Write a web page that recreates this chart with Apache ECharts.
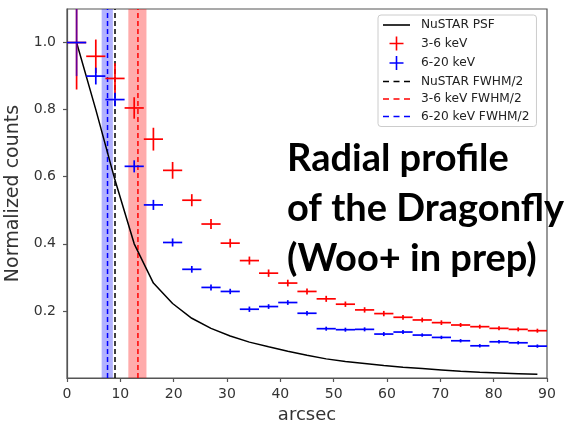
<!DOCTYPE html>
<html>
<head>
<meta charset="utf-8">
<script src="https://cdn.jsdelivr.net/npm/echarts@6/dist/echarts.min.js"></script>
<style>html,body{margin:0;padding:0;background:#fff;}#c{width:577px;height:423px;}</style>
</head>
<body>
<div id="c"></div>
<script>
// ---- data ----
const binCenters = [1.8, 5.4, 9.0, 12.6, 16.2, 19.8, 23.4, 27.0, 30.6, 34.2, 37.8, 41.4, 45.0, 48.6, 52.2, 55.8, 59.4, 63.0, 66.6, 70.2, 73.8, 77.4, 81.0, 84.6, 88.2];
const binHalfWidth = 1.8;
const psf = [1.0, 0.80, 0.59, 0.40, 0.283, 0.222, 0.178, 0.148, 0.125, 0.107, 0.093, 0.080, 0.068, 0.057, 0.049, 0.043, 0.037, 0.032, 0.028, 0.024, 0.020, 0.017, 0.015, 0.013, 0.011];
const soft = [1.0, 0.959, 0.893, 0.805, 0.712, 0.619, 0.530, 0.459, 0.402, 0.350, 0.3125, 0.283, 0.258, 0.236, 0.220, 0.203, 0.192, 0.181, 0.173, 0.165, 0.158, 0.153, 0.148, 0.145, 0.141];
const softErr = [0.14, 0.05, 0.045, 0.032, 0.034, 0.025, 0.018, 0.015, 0.013, 0.012, 0.011, 0.010, 0.009, 0.009, 0.008, 0.008, 0.008, 0.007, 0.007, 0.007, 0.006, 0.006, 0.006, 0.006, 0.006];
const hard = [1.0, 0.90, 0.830, 0.631, 0.516, 0.404, 0.324, 0.270, 0.258, 0.205, 0.213, 0.225, 0.193, 0.147, 0.144, 0.145, 0.131, 0.137, 0.128, 0.121, 0.111, 0.096, 0.108, 0.105, 0.095];
const hardErr = [0.10, 0.025, 0.02, 0.018, 0.015, 0.012, 0.010, 0.009, 0.008, 0.008, 0.007, 0.007, 0.007, 0.006, 0.006, 0.006, 0.006, 0.006, 0.005, 0.005, 0.005, 0.005, 0.005, 0.005, 0.005];
const fwhmNustar = 9.0;
const fwhmSoft = 13.3, fwhmSoftBand = [11.5, 14.9];
const fwhmHard = 7.6, fwhmHardBand = [6.5, 8.6];
const xTicks = [0, 10, 20, 30, 40, 50, 60, 70, 80, 90];
const yTicks = [0.2, 0.4, 0.6, 0.8, 1.0];
const titleLines = ['Radial profile', 'of the Dragonfly', '(Woo+ in prep)'];
const names = ['NuSTAR PSF', '3-6 keV', '6-20 keV', 'NuSTAR FWHM/2', '3-6 keV FWHM/2', '6-20 keV FWHM/2'];

const Y_MAX = 1.1;
const plusIcon = 'path://M6.2,0h1.6v6.2h6.2v1.6h-6.2v6.2h-1.6v-6.2h-6.2v-1.6h6.2z';
const solidIcon = 'path://M0,0h27v1.6h-27z';
const dashIcon = 'path://M0,0h6v1.6h-6zM10.5,0h6v1.6h-6zM21,0h6v1.6h-6z';

function errRenderer(color, overlapAlpha) {
  return function (params, api) {
    const x = api.value(0), y = api.value(1), xe = api.value(2), ye = api.value(3);
    const cs = params.coordSys;
    const l = api.coord([x - xe, y]), r = api.coord([x + xe, y]);
    const t = api.coord([x, y + ye]), b = api.coord([x, y - ye]);
    const top = Math.max(t[1], cs.y), left = Math.max(l[0], cs.x);
    const op = (params.dataIndex === 0 && overlapAlpha) ? overlapAlpha : 1;
    return {
      type: 'group',
      children: [
        { type: 'line', shape: { x1: left, y1: l[1], x2: r[0], y2: r[1] }, style: { stroke: color, lineWidth: 1.7 } },
        { type: 'line', shape: { x1: t[0], y1: top, x2: b[0], y2: b[1] }, style: { stroke: color, lineWidth: 1.7, opacity: op } }
      ]
    };
  };
}

const chart = echarts.init(document.getElementById('c'), null, { renderer: 'canvas' });
const axisCol = '#555';
const labCol = '#333';
const option = {
  animation: false,
  backgroundColor: '#fff',
  grid: { left: 67, right: 30, top: 9, bottom: 45, containLabel: false, outerBoundsMode: 'none',
    show: true, borderColor: axisCol, borderWidth: 1.2, backgroundColor: 'transparent' },
  xAxis: {
    type: 'value', min: 0, max: 90, interval: 10,
    name: 'arcsec', nameLocation: 'middle', nameGap: 26,
    nameTextStyle: { fontFamily: 'DejaVu Sans', fontSize: 18, color: labCol },
    axisLine: { lineStyle: { color: axisCol, width: 1.2 } },
    axisTick: { show: true, length: 4, lineStyle: { color: axisCol, width: 1.2 } },
    axisLabel: { fontFamily: 'DejaVu Sans', fontSize: 14, color: labCol, margin: 9,
      customValues: xTicks },
    splitLine: { show: false }
  },
  yAxis: {
    type: 'value', min: 0, max: Y_MAX,
    name: 'Normalized counts', nameLocation: 'middle', nameGap: 33, nameRotate: 90,
    nameTextStyle: { fontFamily: 'DejaVu Sans', fontSize: 19, color: labCol },
    axisLine: { show: true, lineStyle: { color: axisCol, width: 1.2 } },
    axisTick: { show: true, length: 4, lineStyle: { color: axisCol, width: 1.2 }, customValues: yTicks },
    axisLabel: { fontFamily: 'DejaVu Sans', fontSize: 14, color: labCol, margin: 11,
      customValues: yTicks, formatter: v => v.toFixed(1) },
    splitLine: { show: false }
  },
  legend: {
    orient: 'vertical', left: 378, top: 15,
    padding: [4, 7, 4, 5], itemGap: 5.5, itemWidth: 27, itemHeight: 14,
    backgroundColor: 'rgba(255,255,255,0.85)', borderColor: '#ccc', borderWidth: 1, borderRadius: 3,
    textStyle: { fontFamily: 'DejaVu Sans', fontSize: 12.2, color: '#222', padding: [0, 0, 0, 6] },
    data: [
      { name: names[0], icon: solidIcon },
      { name: names[1], icon: plusIcon },
      { name: names[2], icon: plusIcon },
      { name: names[3], icon: dashIcon },
      { name: names[4], icon: dashIcon },
      { name: names[5], icon: dashIcon }
    ]
  },
  graphic: titleLines.map((t, i) => ({
    type: 'text', z: 100,
    style: { text: t, x: 287, y: 159 + i * 50, verticalAlign: 'middle', font: 'bold 38px Lato', fill: '#000' }
  })),
  series: [
    {
      name: names[5], type: 'line', symbol: 'none', z: 2,
      data: [[fwhmHard, 0], [fwhmHard, Y_MAX]],
      lineStyle: { color: '#0000ff', width: 1.5, type: [5, 3] }, itemStyle: { color: '#0000ff' },
      markArea: { silent: true, itemStyle: { color: 'rgba(0,0,255,0.3)' }, data: [[{ xAxis: fwhmHardBand[0] }, { xAxis: fwhmHardBand[1] }]] }
    },
    {
      name: names[4], type: 'line', symbol: 'none', z: 2,
      data: [[fwhmSoft, 0], [fwhmSoft, Y_MAX]],
      lineStyle: { color: '#ff0000', width: 1.5, type: [5, 3] }, itemStyle: { color: '#ff0000' },
      markArea: { silent: true, itemStyle: { color: 'rgba(255,0,0,0.33)' }, data: [[{ xAxis: fwhmSoftBand[0] }, { xAxis: fwhmSoftBand[1] }]] }
    },
    {
      name: names[3], type: 'line', symbol: 'none', z: 2,
      data: [[fwhmNustar, 0], [fwhmNustar, Y_MAX]],
      lineStyle: { color: '#000', width: 1.5, type: [5, 3] }, itemStyle: { color: '#000' }
    },
    {
      name: names[0], type: 'line', symbol: 'none', z: 3,
      data: binCenters.map((x, i) => [x, psf[i]]),
      lineStyle: { color: '#000', width: 1.5 }, itemStyle: { color: '#000' }
    },
    {
      name: names[1], type: 'custom', z: 4, clip: true,
      itemStyle: { color: '#ff0000' },
      renderItem: errRenderer('#ff0000'),
      encode: { x: 0, y: 1 },
      data: binCenters.map((x, i) => [x, soft[i], binHalfWidth, softErr[i]])
    },
    {
      name: names[2], type: 'custom', z: 5, clip: true,
      itemStyle: { color: '#0000ff' },
      renderItem: errRenderer('#0000ff', 0.6),
      encode: { x: 0, y: 1 },
      data: binCenters.map((x, i) => [x, hard[i], binHalfWidth, hardErr[i]])
    }
  ]
};
chart.setOption(option);
</script>
</body>
</html>
